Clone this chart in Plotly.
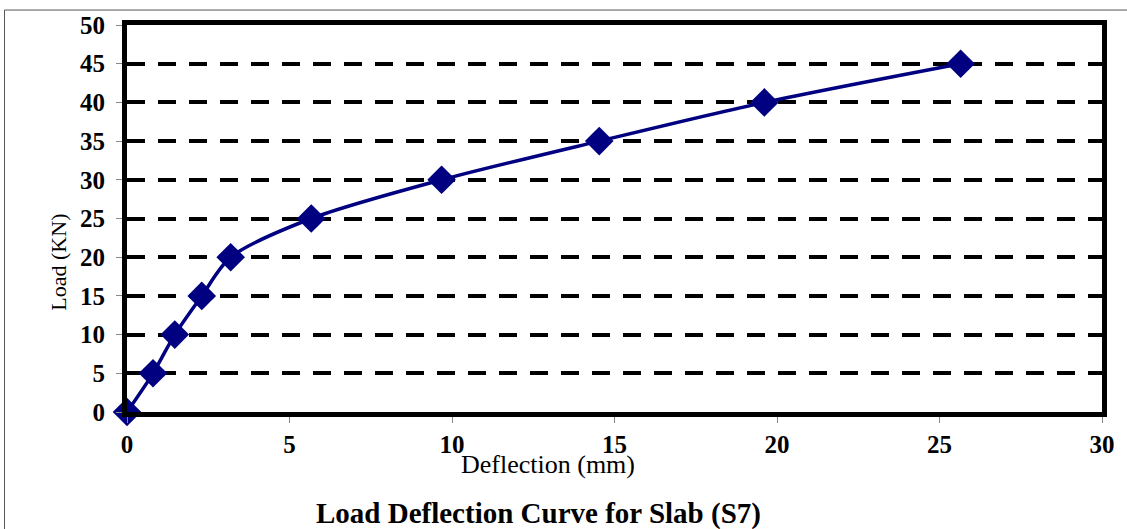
import plotly.graph_objects as go

deflection = [0, 0.80, 1.47, 2.30, 3.19, 5.67, 9.68, 14.53, 19.61, 25.65]
load = [0, 5, 10, 15, 20, 25, 30, 35, 40, 45]
x_ticks = [0, 5, 10, 15, 20, 25, 30]
y_ticks = [0, 5, 10, 15, 20, 25, 30, 35, 40, 45, 50]

font = "Liberation Serif, Times New Roman, serif"

L, R, T, B = 127, 1106, 24, 412
PW, PH = R - L, B - T


def px(x):
    return (x - L) / PW


def py(y):
    return (B - y) / PH


fig = go.Figure()
fig.add_trace(go.Scatter(
    x=deflection, y=load, mode="lines+markers",
    line=dict(color="#000080", width=3.5, shape="spline", smoothing=0.8),
    marker=dict(symbol="diamond", size=22, color="#000080"),
    cliponaxis=False, showlegend=False,
))

tickfont = dict(size=25, family=font, color="black", weight="bold")

fig.update_layout(
    width=1127, height=529,
    margin=dict(l=L, r=1127 - R, t=T, b=529 - B),
    paper_bgcolor="white", plot_bgcolor="white",
    font=dict(family=font, color="black"),
    xaxis=dict(range=[0, 30], tickvals=x_ticks, ticks="outside", ticklen=6,
               tickcolor="#888888", tickwidth=1, showgrid=False, zeroline=False,
               showline=True, linecolor="black", linewidth=5, mirror=True,
               tickfont=tickfont),
    yaxis=dict(range=[0, 50], tickvals=y_ticks, ticks="outside", ticklen=6,
               tickcolor="#888888", tickwidth=1, showgrid=True, gridcolor="black",
               gridwidth=4, griddash="18px,13px", zeroline=False,
               showline=True, linecolor="black", linewidth=5, mirror=True,
               ticklabelstandoff=6, tickfont=tickfont),
    annotations=[
        dict(text="Load (KN)", xref="paper", yref="paper", x=px(58), y=py(262),
             xanchor="center", yanchor="middle",
             showarrow=False, textangle=-90, font=dict(size=22, family=font, color="black")),
        dict(text="Deflection (mm)", xref="paper", yref="paper", x=px(550), y=py(465),
             xanchor="center", yanchor="middle",
             showarrow=False, font=dict(size=26, family=font, color="black")),
        dict(text="<b>Load Deflection Curve for Slab (S7)</b>", xref="paper", yref="paper",
             x=px(540), y=py(514), xanchor="center", yanchor="middle",
             showarrow=False, font=dict(size=29, family=font, color="black")),
    ],
    shapes=[
        dict(type="rect", xref="paper", yref="paper", x0=px(4), x1=px(1140),
             y0=py(560), y1=py(9), line=dict(color="#555555", width=1), layer="below"),
    ],
)

fig.write_html("out.html", config={"displayModeBar": False},
               post_script="document.body.style.margin='0';")
